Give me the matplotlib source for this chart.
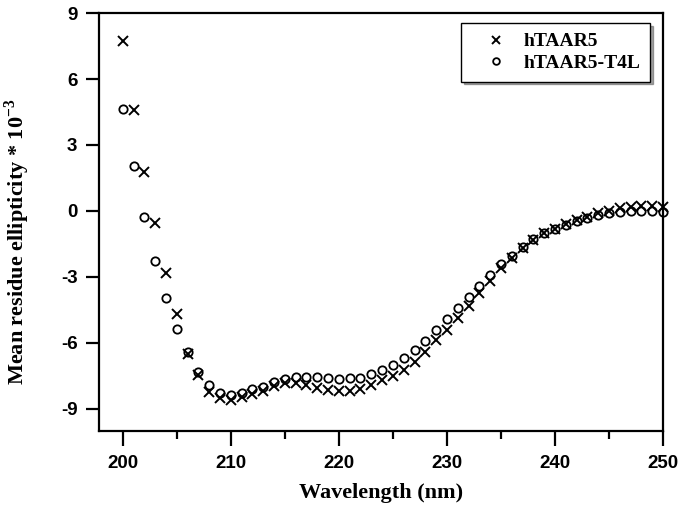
import numpy as np
from matplotlib import pyplot as plt
from matplotlib.ticker import MultipleLocator

plt.rcParams['axes.unicode_minus'] = False
plt.rcParams['mathtext.fontset'] = 'custom'
plt.rcParams['mathtext.rm'] = 'Liberation Serif'
plt.rcParams['mathtext.bf'] = 'Liberation Serif:bold'

# longitudes de onda (nm)
wavelength = np.arange(200, 251)

# hTAAR5, 200..250 nm
htaar5 = [7.73, 4.60, 1.79, -0.53, -2.80, -4.68, -6.50, -7.45, -8.21, -8.52,
          -8.59, -8.47, -8.32, -8.17, -7.95, -7.83, -7.80, -7.91, -8.06, -8.14,
          -8.17, -8.17, -8.08, -7.91, -7.68, -7.50, -7.23, -6.85, -6.39, -5.86,
          -5.41, -4.88, -4.32, -3.71, -3.17, -2.61, -2.15, -1.70, -1.32, -1.02,
          -0.82, -0.59, -0.41, -0.26, -0.11, 0.02, 0.12, 0.20, 0.23, 0.23,
          0.20]

# hTAAR5-T4L, 200..250 nm
htaar5_t4l = [4.65, 2.06, -0.28, -2.27, -3.97, -5.36, -6.39, -7.33, -7.91, -8.26,
              -8.36, -8.26, -8.10, -7.98, -7.76, -7.64, -7.56, -7.53, -7.56, -7.61,
              -7.64, -7.61, -7.57, -7.41, -7.25, -7.00, -6.70, -6.32, -5.89, -5.42,
              -4.92, -4.42, -3.89, -3.39, -2.91, -2.42, -2.05, -1.62, -1.29, -1.02,
              -0.82, -0.64, -0.44, -0.33, -0.20, -0.11, -0.05, 0.00, 0.00, 0.02,
              -0.03]

etiquetas = ['hTAAR5', 'hTAAR5-T4L']

figure = plt.figure(figsize=(6.85, 5.14), dpi=100)
axes = figure.add_axes([0.1445, 0.1615, 0.8235, 0.8132])

axes.plot(wavelength, htaar5, 'x', color='black', markersize=7.5,
          markeredgewidth=1.4, label=etiquetas[0], clip_on=False)
axes.plot(wavelength, htaar5_t4l, 'o', color='black', markerfacecolor='none',
          markersize=6, markeredgewidth=1.3, label=etiquetas[1], clip_on=False)

axes.set_xlim([197.8, 250])
axes.set_ylim([-10, 9])
axes.xaxis.set_major_locator(MultipleLocator(10))
axes.xaxis.set_minor_locator(MultipleLocator(5))
axes.set_yticks([-9, -6, -3, 0, 3, 6, 9])

for spine in axes.spines.values():
    spine.set_linewidth(1.6)
axes.tick_params(axis='x', which='major', direction='out', length=11, width=1.6, pad=6)
axes.tick_params(axis='x', which='minor', direction='out', length=6, width=1.6)
axes.tick_params(axis='y', which='major', direction='out', length=9.5, width=1.6, pad=6)

for lbl in axes.get_xticklabels() + axes.get_yticklabels():
    lbl.set_family('Liberation Sans')
    lbl.set_weight('bold')
    lbl.set_fontsize(13.5)

axes.set_xlabel('Wavelength (nm)', family='Liberation Serif', weight='bold',
                fontsize=16)
axes.xaxis.set_label_coords(0.5, -0.125)
axes.set_ylabel('Mean residue ellipticity * 10$^{\\mathbf{-3}}$',
                family='Liberation Serif', weight='bold', fontsize=16)
axes.yaxis.set_label_coords(-0.119, 0.452)

leg = axes.legend(loc='upper right', bbox_to_anchor=(0.977, 0.976), borderaxespad=0,
                  prop={'family': 'Liberation Serif', 'weight': 'bold', 'size': 14},
                  fancybox=False, shadow=True, edgecolor='black', markerscale=0.8,
                  handlelength=2.6, handletextpad=0.1, borderpad=0.5, labelspacing=0.2)
leg.get_frame().set_linewidth(1.0)

figure.savefig('out.png', dpi=100)
